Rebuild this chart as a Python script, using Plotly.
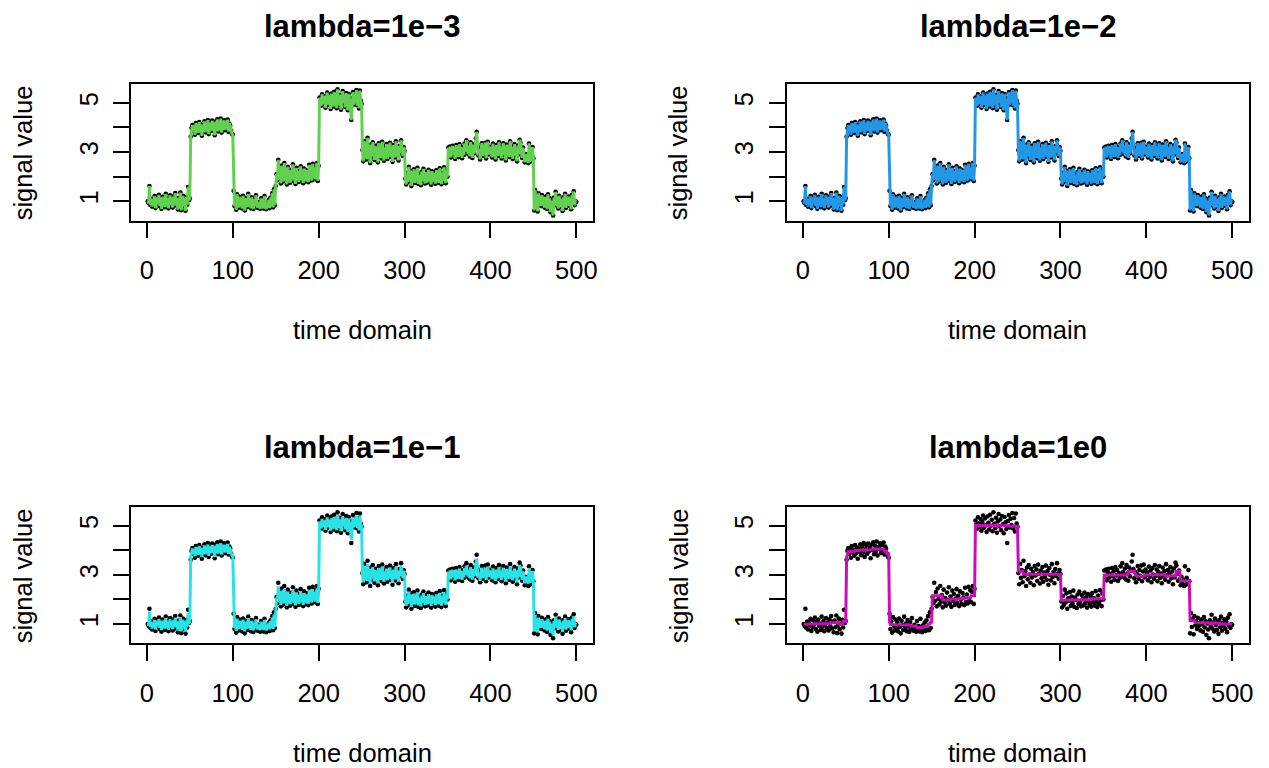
import plotly.graph_objects as go

# ---------------- data ----------------
time_idx = list(range(1, 501))

observed = [
    1.00, 0.92, 1.62, 0.85, 1.10, 0.78, 1.05, 0.95, 1.21, 0.72,
    0.88, 1.15, 0.97, 1.26, 0.80, 1.08, 0.69, 1.18, 0.93, 1.02,
    0.76, 1.30, 0.89, 1.12, 0.71, 0.98, 1.24, 0.84, 1.06, 0.74,
    1.19, 0.91, 1.33, 0.82, 1.09, 0.66, 1.14, 0.87, 1.35, 0.63,
    0.95, 1.22, 0.79, 1.01, 0.61, 1.17, 0.86, 1.58, 1.04, 1.12,
    3.62, 3.98, 4.10, 3.85, 4.05, 3.70, 4.18, 3.92, 4.02, 3.78,
    4.22, 3.88, 4.12, 3.66, 4.08, 3.95, 4.25, 3.80, 4.15, 3.90,
    4.30, 3.73, 4.04, 4.20, 3.86, 4.28, 3.96, 4.11, 3.68, 4.24,
    4.01, 4.33, 3.84, 4.19, 3.94, 4.36, 3.79, 4.14, 4.06, 4.29,
    3.89, 4.21, 3.98, 4.32, 3.83, 4.16, 4.07, 3.87, 3.74, 3.70,
    1.42, 0.80, 1.10, 0.65, 1.28, 0.92, 0.74, 1.18, 0.83, 1.05,
    0.70, 1.22, 0.88, 0.62, 1.13, 0.96, 0.76, 1.30, 0.84, 1.02,
    0.71, 1.16, 0.90, 0.68, 1.08, 0.79, 1.24, 0.86, 0.73, 0.97,
    0.82, 0.69, 1.12, 0.77, 0.92, 0.70, 1.21, 0.81, 0.67, 0.95,
    0.74, 1.06, 0.72, 1.15, 0.80, 1.32, 0.75, 1.48, 0.84, 1.62,
    2.10, 1.85, 2.68, 1.95, 2.30, 1.72, 2.45, 2.02, 1.80, 2.55,
    1.92, 2.18, 1.68, 2.40, 1.88, 2.06, 1.75, 2.28, 1.97, 2.50,
    1.83, 2.12, 1.70, 2.36, 1.94, 2.22, 1.78, 2.04, 2.42, 1.86,
    2.15, 1.73, 2.33, 1.99, 1.81, 2.26, 2.08, 1.77, 2.48, 1.90,
    2.20, 1.84, 2.52, 1.96, 2.38, 1.89, 2.31, 2.55, 1.82, 2.44,
    5.22, 5.05, 4.88, 5.35, 5.10, 4.95, 5.28, 4.80, 5.15, 5.42,
    4.92, 5.30, 5.02, 4.75, 5.38, 5.12, 4.85, 5.45, 5.00, 5.25,
    4.78, 5.55, 5.08, 4.90, 5.33, 4.72, 5.18, 5.48, 4.98, 5.26,
    4.82, 5.40, 5.06, 4.70, 5.36, 5.14, 4.87, 4.30, 5.20, 5.44,
    4.93, 5.29, 5.03, 5.52, 4.89, 5.32, 4.77, 5.50, 5.09, 4.96,
    3.08, 2.62, 3.45, 2.88, 3.20, 2.70, 3.58, 2.95, 3.15, 2.55,
    3.30, 2.82, 3.40, 3.02, 2.68, 3.25, 2.90, 3.12, 2.58, 3.36,
    2.98, 3.22, 2.75, 3.42, 3.05, 2.65, 3.18, 2.86, 3.32, 2.72,
    3.10, 2.93, 3.38, 2.80, 3.16, 2.60, 3.28, 3.00, 2.78, 3.44,
    2.92, 3.13, 2.66, 3.24, 2.96, 3.48, 3.06, 2.84, 3.20, 3.04,
    1.92, 1.68, 2.15, 1.78, 2.40, 1.88, 2.25, 1.62, 2.05, 1.95,
    2.30, 1.74, 2.12, 1.85, 2.36, 1.70, 2.08, 1.98, 1.65, 2.20,
    1.82, 2.32, 1.90, 1.72, 2.18, 2.02, 1.76, 2.28, 1.86, 2.10,
    1.67, 2.22, 1.94, 1.80, 2.14, 1.71, 2.26, 1.89, 2.06, 1.75,
    2.34, 1.91, 1.69, 2.16, 1.83, 2.38, 1.97, 1.73, 2.24, 2.00,
    3.18, 2.85, 3.22, 2.78, 3.10, 3.25, 2.90, 3.05, 2.72, 3.28,
    2.95, 3.15, 2.80, 3.32, 2.98, 3.20, 2.75, 3.08, 2.88, 3.35,
    3.02, 3.48, 3.12, 2.92, 3.26, 2.82, 3.40, 3.06, 2.76, 3.30,
    2.94, 3.16, 3.55, 3.82, 3.24, 2.86, 3.12, 2.70, 3.04, 3.36,
    2.84, 3.20, 2.96, 3.38, 2.74, 3.14, 3.42, 2.90, 3.22, 3.00,
    3.10, 2.78, 3.34, 2.92, 3.18, 2.70, 3.28, 3.02, 2.84, 3.40,
    2.96, 3.22, 2.74, 3.12, 3.36, 2.88, 3.06, 2.66, 3.30, 2.94,
    3.16, 2.80, 3.44, 2.98, 3.20, 2.72, 3.08, 3.32, 2.86, 3.14,
    2.62, 3.26, 2.90, 3.50, 3.38, 3.04, 2.76, 3.18, 2.82, 2.58,
    2.92, 2.68, 2.80, 2.55, 3.35, 2.60, 2.88, 2.64, 3.20, 2.74,
    0.62, 1.45, 0.88, 1.20, 0.58, 1.32, 0.95, 1.10, 0.80, 1.25,
    0.92, 1.05, 0.74, 1.18, 0.98, 0.68, 1.28, 0.86, 1.12, 0.55,
    1.02, 0.78, 0.42, 1.15, 0.90, 1.38, 0.82, 1.06, 0.70, 1.22,
    0.96, 0.76, 1.08, 0.60, 1.16, 0.87, 1.30, 0.73, 1.04, 0.93,
    1.19, 0.81, 1.10, 0.67, 1.26, 0.94, 1.40, 0.84, 1.00, 0.97,
]

# fits at lambda = 1e-3 and 1e-2 are visually identical to the observations
fit_1e3 = observed
fit_1e2 = observed

fit_1e1 = [
    1.00, 0.94, 1.50, 0.88, 1.08, 0.82, 1.04, 0.96, 1.17, 0.78,
    0.90, 1.12, 0.98, 1.21, 0.84, 1.06, 0.75, 1.14, 0.94, 1.02,
    0.81, 1.24, 0.91, 1.10, 0.77, 0.98, 1.19, 0.87, 1.05, 0.79,
    1.15, 0.93, 1.26, 0.86, 1.07, 0.73, 1.11, 0.90, 1.28, 0.70,
    0.96, 1.18, 0.83, 1.01, 0.69, 1.14, 0.89, 1.46, 1.03, 1.10,
    3.70, 3.98, 4.08, 3.88, 4.04, 3.76, 4.14, 3.94, 4.02, 3.82,
    4.18, 3.90, 4.10, 3.73, 4.06, 3.96, 4.20, 3.84, 4.12, 3.92,
    4.24, 3.78, 4.03, 4.16, 3.89, 4.22, 3.97, 4.09, 3.74, 4.19,
    4.01, 4.26, 3.87, 4.15, 3.95, 4.29, 3.83, 4.11, 4.05, 4.23,
    3.91, 4.17, 3.98, 4.26, 3.86, 4.13, 4.06, 3.90, 3.79, 3.76,
    1.34, 0.84, 1.08, 0.72, 1.22, 0.94, 0.79, 1.14, 0.86, 1.04,
    0.76, 1.18, 0.90, 0.70, 1.10, 0.97, 0.81, 1.24, 0.87, 1.02,
    0.77, 1.13, 0.92, 0.74, 1.06, 0.83, 1.19, 0.89, 0.78, 0.98,
    0.86, 0.75, 1.10, 0.82, 0.94, 0.76, 1.17, 0.85, 0.74, 0.96,
    0.79, 1.05, 0.78, 1.12, 0.84, 1.26, 0.80, 1.38, 0.87, 1.50,
    2.08, 1.88, 2.54, 1.96, 2.24, 1.78, 2.36, 2.02, 1.84, 2.44,
    1.94, 2.14, 1.74, 2.32, 1.90, 2.05, 1.80, 2.22, 1.98, 2.40,
    1.86, 2.10, 1.76, 2.29, 1.95, 2.18, 1.82, 2.03, 2.34, 1.89,
    2.12, 1.78, 2.26, 1.99, 1.85, 2.21, 2.06, 1.82, 2.38, 1.92,
    2.16, 1.87, 2.42, 1.97, 2.30, 1.91, 2.25, 2.44, 1.86, 2.35,
    5.18, 5.04, 4.90, 5.28, 5.08, 4.96, 5.22, 4.84, 5.12, 5.34,
    4.94, 5.24, 5.02, 4.80, 5.30, 5.10, 4.88, 5.36, 5.00, 5.20,
    4.82, 5.44, 5.06, 4.92, 5.26, 4.78, 5.14, 5.38, 4.98, 5.21,
    4.86, 5.32, 5.05, 4.76, 5.29, 5.11, 4.90, 4.44, 5.16, 5.35,
    4.94, 5.23, 5.02, 5.42, 4.91, 5.26, 4.82, 5.40, 5.07, 4.97,
    3.06, 2.70, 3.36, 2.90, 3.16, 2.76, 3.46, 2.96, 3.12, 2.64,
    3.24, 2.86, 3.32, 3.02, 2.74, 3.20, 2.92, 3.10, 2.66, 3.29,
    2.98, 3.18, 2.80, 3.34, 3.04, 2.72, 3.14, 2.89, 3.26, 2.78,
    3.08, 2.94, 3.30, 2.84, 3.13, 2.68, 3.22, 3.00, 2.82, 3.35,
    2.94, 3.10, 2.73, 3.19, 2.97, 3.38, 3.05, 2.87, 3.16, 3.03,
    1.94, 1.74, 2.12, 1.82, 2.32, 1.90, 2.20, 1.70, 2.04, 1.96,
    2.24, 1.79, 2.10, 1.88, 2.29, 1.76, 2.06, 1.98, 1.72, 2.16,
    1.86, 2.26, 1.92, 1.78, 2.14, 2.02, 1.81, 2.22, 1.89, 2.08,
    1.74, 2.18, 1.95, 1.84, 2.11, 1.77, 2.21, 1.91, 2.05, 1.80,
    2.27, 1.93, 1.75, 2.13, 1.86, 2.30, 1.98, 1.78, 2.19, 2.00,
    3.14, 2.88, 3.18, 2.82, 3.08, 3.20, 2.92, 3.04, 2.78, 3.22,
    2.96, 3.12, 2.84, 3.26, 2.98, 3.16, 2.80, 3.06, 2.90, 3.28,
    3.02, 3.38, 3.10, 2.94, 3.21, 2.86, 3.32, 3.05, 2.81, 3.24,
    2.95, 3.13, 3.44, 3.66, 3.19, 2.89, 3.10, 2.76, 3.03, 3.29,
    2.87, 3.16, 2.97, 3.30, 2.79, 3.11, 3.34, 2.92, 3.18, 3.00,
    3.08, 2.82, 3.27, 2.94, 3.14, 2.76, 3.22, 3.02, 2.87, 3.32,
    2.97, 3.18, 2.79, 3.10, 3.29, 2.90, 3.05, 2.73, 3.24, 2.95,
    3.13, 2.84, 3.35, 2.98, 3.16, 2.78, 3.06, 3.26, 2.89, 3.11,
    2.70, 3.21, 2.92, 3.40, 3.30, 3.03, 2.81, 3.14, 2.86, 2.66,
    2.94, 2.74, 2.84, 2.64, 3.28, 2.68, 2.90, 2.71, 3.16, 2.79,
    0.70, 1.36, 0.90, 1.16, 0.66, 1.26, 0.96, 1.08, 0.84, 1.20,
    0.94, 1.04, 0.79, 1.14, 0.98, 0.74, 1.22, 0.89, 1.10, 0.64,
    1.02, 0.82, 0.54, 1.12, 0.92, 1.30, 0.86, 1.05, 0.76, 1.18,
    0.97, 0.81, 1.06, 0.68, 1.13, 0.90, 1.24, 0.78, 1.03, 0.94,
    1.15, 0.85, 1.08, 0.74, 1.21, 0.95, 1.32, 0.87, 1.00, 0.98,
]

fit_1e0 = [
    0.99, 0.99, 0.99, 0.99, 0.99, 0.99, 0.99, 0.99, 0.99, 0.99,
    1.00, 1.00, 1.00, 1.00, 1.00, 1.00, 1.00, 1.00, 1.00, 1.00,
    1.02, 1.02, 1.02, 1.02, 1.02, 1.02, 1.02, 1.02, 1.02, 1.02,
    1.04, 1.04, 1.04, 1.04, 1.04, 1.04, 1.04, 1.04, 1.06, 1.06,
    1.06, 1.06, 0.98, 0.98, 0.98, 0.98, 1.10, 1.10, 1.10, 1.10,
    3.72, 3.86, 3.95, 3.95, 3.95, 3.95, 3.95, 3.95, 3.95, 3.95,
    4.00, 4.00, 4.00, 4.00, 4.00, 4.00, 4.00, 4.00, 4.00, 4.00,
    4.03, 4.03, 4.03, 4.03, 4.03, 4.03, 4.03, 4.03, 4.03, 4.03,
    4.06, 4.06, 4.06, 4.06, 4.06, 4.06, 4.06, 4.06, 4.06, 4.06,
    4.06, 4.06, 4.06, 4.06, 3.97, 3.97, 3.97, 3.86, 3.86, 3.86,
    1.08, 0.98, 0.98, 0.98, 0.98, 0.98, 0.98, 0.98, 0.98, 0.98,
    0.98, 0.98, 0.98, 0.98, 0.98, 0.96, 0.96, 0.96, 0.96, 0.96,
    0.96, 0.96, 0.96, 0.96, 0.96, 0.92, 0.92, 0.92, 0.92, 0.92,
    0.92, 0.92, 0.86, 0.86, 0.86, 0.86, 0.86, 0.86, 0.86, 0.86,
    0.90, 0.90, 0.90, 0.90, 0.90, 1.00, 1.00, 1.00, 1.08, 1.08,
    2.15, 2.15, 2.15, 2.15, 2.15, 2.15, 2.15, 2.15, 2.15, 2.15,
    2.15, 2.15, 1.98, 1.98, 1.98, 1.98, 1.98, 1.98, 1.98, 1.98,
    1.98, 1.98, 2.02, 2.02, 2.02, 2.02, 2.02, 2.02, 2.02, 2.02,
    2.02, 2.02, 2.02, 2.02, 2.02, 2.06, 2.06, 2.06, 2.06, 2.06,
    2.06, 2.06, 2.06, 2.06, 2.06, 2.15, 2.15, 2.15, 2.15, 2.15,
    5.02, 5.02, 5.02, 5.02, 5.02, 5.02, 5.02, 5.02, 5.02, 5.02,
    5.02, 5.02, 5.02, 5.02, 5.02, 5.02, 5.02, 5.02, 5.02, 5.02,
    5.00, 5.00, 5.00, 5.00, 5.00, 5.00, 5.00, 5.00, 5.00, 5.00,
    5.00, 5.00, 5.00, 5.00, 5.00, 5.00, 5.00, 5.00, 5.00, 5.00,
    4.98, 4.98, 4.98, 4.98, 4.98, 4.98, 4.98, 4.98, 4.98, 4.98,
    3.15, 3.15, 3.15, 3.15, 3.15, 3.15, 3.03, 3.03, 3.03, 3.03,
    3.03, 3.03, 3.03, 3.03, 3.03, 3.03, 3.03, 3.03, 3.03, 3.03,
    3.03, 3.03, 3.03, 3.03, 3.03, 3.03, 3.03, 3.03, 3.03, 3.03,
    3.03, 3.03, 3.03, 3.03, 3.03, 3.03, 3.03, 3.03, 3.03, 3.03,
    3.03, 3.03, 3.03, 3.03, 3.03, 3.03, 3.03, 3.03, 3.03, 3.03,
    1.97, 1.97, 1.97, 1.97, 1.97, 1.97, 1.97, 1.97, 1.97, 1.97,
    1.97, 1.97, 1.97, 1.97, 1.97, 2.00, 2.00, 2.00, 2.00, 2.00,
    2.00, 2.00, 2.00, 2.00, 2.00, 2.00, 2.00, 2.00, 2.00, 2.00,
    2.00, 2.00, 2.00, 2.00, 2.00, 2.03, 2.03, 2.03, 2.03, 2.03,
    2.03, 2.03, 2.03, 2.03, 2.03, 2.03, 2.03, 2.03, 2.03, 2.03,
    3.00, 3.00, 3.00, 3.00, 3.00, 3.00, 3.00, 3.00, 3.00, 3.00,
    3.00, 3.00, 3.00, 3.00, 3.00, 3.00, 3.00, 3.00, 3.00, 3.00,
    3.00, 3.00, 3.00, 3.00, 3.00, 3.00, 3.00, 3.00, 3.15, 3.15,
    3.15, 3.15, 3.15, 3.15, 3.15, 3.15, 3.02, 3.02, 2.95, 2.95,
    2.95, 2.95, 2.95, 2.95, 2.95, 2.95, 2.95, 3.00, 3.00, 3.00,
    3.02, 3.02, 3.02, 3.02, 3.02, 3.02, 3.02, 3.02, 3.02, 3.02,
    3.02, 3.02, 3.02, 3.02, 3.02, 3.02, 3.02, 3.02, 3.02, 3.02,
    3.02, 2.97, 2.97, 2.97, 2.97, 2.97, 2.97, 2.97, 2.97, 2.97,
    2.97, 2.97, 2.97, 2.97, 3.15, 3.15, 3.15, 3.15, 3.15, 2.76,
    2.76, 2.76, 2.76, 2.76, 2.76, 2.76, 2.76, 2.76, 2.76, 2.76,
    1.13, 1.13, 1.13, 1.13, 1.13, 1.13, 1.06, 1.06, 1.06, 1.06,
    1.06, 1.06, 1.06, 1.06, 1.06, 1.06, 1.06, 1.06, 1.06, 1.06,
    1.03, 1.03, 1.03, 1.03, 1.03, 1.03, 1.03, 1.03, 1.03, 1.03,
    1.03, 1.03, 1.03, 1.03, 1.03, 1.00, 1.00, 1.00, 1.00, 1.00,
    1.00, 1.00, 1.00, 1.00, 1.00, 1.00, 1.00, 1.00, 1.00, 1.00,
]

panel_titles = ["lambda=1e\u22123", "lambda=1e\u22122", "lambda=1e\u22121", "lambda=1e0"]
panel_fits = [fit_1e3, fit_1e2, fit_1e1, fit_1e0]
panel_colors = ["#61D04F", "#2297E6", "#28E2E5", "#CD0BBC"]
x_ticks = [0, 100, 200, 300, 400, 500]
y_ticks = [1, 2, 3, 4, 5]
y_ticktext = ["1", "", "3", "", "5"]
x_label = "time domain"
y_label = "signal value"

# ---------------- layout ----------------
# the page body has an 8px margin, so the figure is drawn 8px in from the
# top-left corner; all screen positions below are shifted by that offset.
OFF = 8
W, H = 1269 - OFF, 768 - OFF
FONT = "Liberation Sans, Arial, Helvetica, sans-serif"
# plot boxes in screen pixels: (left, top, right, bottom)
boxes_screen = [
    (131, 84.3, 595.3, 220.5),
    (789, 84.3, 1253.3, 220.5),
    (131, 507.3, 595.3, 643.3),
    (789, 507.3, 1253.3, 643.3),
]

xpad = 0.04 * (max(time_idx) - min(time_idx))
xr = [min(time_idx) - xpad, max(time_idx) + xpad]
ymin, ymax = min(observed), max(observed)
ypad = 0.04 * (ymax - ymin)
yr = [ymin - ypad, ymax + ypad]

fig = go.Figure()
annotations = []
for i in range(4):
    sfx = "" if i == 0 else str(i + 1)
    fig.add_trace(go.Scatter(
        x=time_idx, y=observed, mode="markers",
        marker=dict(color="black", size=4.6, line=dict(width=0)),
        xaxis="x" + sfx, yaxis="y" + sfx, showlegend=False, hoverinfo="skip"))
    fig.add_trace(go.Scatter(
        x=time_idx, y=panel_fits[i], mode="lines",
        line=dict(color=panel_colors[i], width=3),
        xaxis="x" + sfx, yaxis="y" + sfx, showlegend=False, hoverinfo="skip"))

    l, t, r, b = [v - OFF for v in boxes_screen[i]]
    axcommon = dict(showline=True, mirror=True, linecolor="black", linewidth=1.8,
                    ticks="outside", ticklen=16, tickwidth=1.8, tickcolor="black",
                    showgrid=False, zeroline=False,
                    tickfont=dict(family=FONT, size=25.5, color="black"))
    fig.layout["xaxis" + sfx] = dict(
        domain=[l / W, r / W], range=xr, tickvals=x_ticks, anchor="y" + sfx,
        ticklabelstandoff=10, **axcommon)
    fig.layout["yaxis" + sfx] = dict(
        domain=[1 - b / H, 1 - t / H], range=yr, tickvals=y_ticks, ticktext=y_ticktext,
        tickangle=-90, anchor="x" + sfx, ticklabelstandoff=5, **axcommon)

    cx = (l + r) / 2 / W
    cy = 1 - (t + b) / 2 / H
    title_top = max(0.0, t - 78)
    annotations.append(dict(text="<b>" + panel_titles[i] + "</b>", x=cx, y=1 - title_top / H,
                            xref="paper", yref="paper", showarrow=False,
                            xanchor="center", yanchor="top", borderpad=0,
                            font=dict(family=FONT, size=31, color="black")))
    annotations.append(dict(text=x_label, x=cx, y=1 - (b + 109.5) / H,
                            xref="paper", yref="paper", showarrow=False,
                            xanchor="center", yanchor="middle",
                            font=dict(family=FONT, size=25.5, color="black")))
    annotations.append(dict(text=y_label, x=(l - 108) / W, y=cy,
                            xref="paper", yref="paper", showarrow=False, textangle=-90,
                            xanchor="center", yanchor="middle",
                            font=dict(family=FONT, size=25.5, color="black")))

fig.update_layout(width=W, height=H, margin=dict(l=0, r=0, t=0, b=0),
                  paper_bgcolor="white", plot_bgcolor="white",
                  annotations=annotations, showlegend=False)

fig.write_html("out.html")
